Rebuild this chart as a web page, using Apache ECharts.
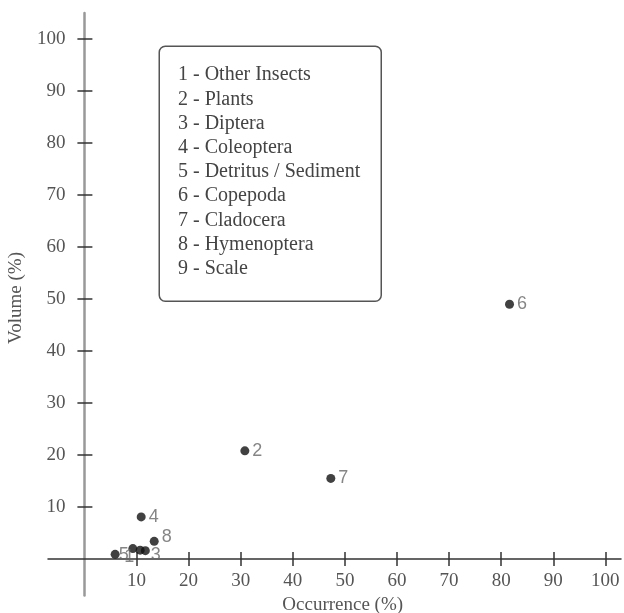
<!DOCTYPE html>
<html>
<head>
<meta charset="utf-8">
<script src="https://cdn.jsdelivr.net/npm/echarts@6/dist/echarts.min.js"></script>
<style>html,body{margin:0;padding:0;background:#fff}#c{width:624px;height:613px}</style>
</head>
<body>
<div id="c"></div>
<script>
const pointLabels = ['1','2','3','4','5','6','7','8','9'];
const categoryNames = ['Other Insects','Plants','Diptera','Coleoptera','Detritus / Sediment','Copepoda','Cladocera','Hymenoptera','Scale'];
const occurrence = [9.3, 30.8, 11.7, 10.9, 5.9, 81.6, 47.3, 13.4, 10.7];
const volume = [2.0, 20.8, 1.6, 8.1, 0.9, 49.0, 15.5, 3.4, 1.7];
const xTicks = [10,20,30,40,50,60,70,80,90,100];
const yTicks = [10,20,30,40,50,60,70,80,90,100];

const labelTweaks = {
  '1': {position:'left', offset:[9,8]},
  '3': {position:'right', offset:[-2,4]},
  '5': {position:'right', offset:[-4,1]},
  '8': {position:'right', offset:[0,-4]},
  '9': {show:false}
};

const data = occurrence.map((x,i)=>{
  const lab = pointLabels[i];
  const d = {value:[x, volume[i]], name: lab};
  if (labelTweaks[lab]) d.label = labelTweaks[lab];
  return d;
});

const serif = 'Liberation Serif';
const txt = '#555';
const tickColor = '#333';
const noLine = {show:false, onZero:false};
const chart = echarts.init(document.getElementById('c'));
chart.setOption({
  animation:false,
  grid:[
    {left:84.4, right:3, top:13, bottom:54, outerBoundsMode:'none', containLabel:false},
    {left:48, right:3, top:13, bottom:17.6, outerBoundsMode:'none', containLabel:false}
  ],
  xAxis:[{
    gridIndex:0, type:'value', min:0, max:103, position:'bottom',
    axisLine:noLine,
    axisTick:{show:true, inside:false, length:7, customValues:xTicks, lineStyle:{color:tickColor, width:1.5}},
    axisLabel:{customValues:xTicks, color:txt, fontFamily:serif, fontSize:19, margin:13},
    splitLine:{show:false},
    name:'Occurrence (%)', nameLocation:'middle', nameGap:37,
    nameTextStyle:{color:txt, fontFamily:serif, fontSize:19, padding:[0,20,0,0]}
  },{
    gridIndex:0, type:'value', min:0, max:103, position:'bottom',
    axisLine:noLine,
    axisTick:{show:true, inside:true, length:7, customValues:xTicks, lineStyle:{color:tickColor, width:1.5}},
    axisLabel:{show:false}, splitLine:{show:false}
  },{
    gridIndex:1, type:'value', min:-7, max:103,
    axisLine:{show:true, onZero:true, lineStyle:{color:'#333', width:1.5}},
    axisTick:{show:false}, axisLabel:{show:false}, splitLine:{show:false}
  }],
  yAxis:[{
    gridIndex:0, type:'value', min:0, max:105, position:'left',
    axisLine:noLine,
    axisTick:{show:true, inside:false, length:7, customValues:yTicks, lineStyle:{color:tickColor, width:1.5}},
    axisLabel:{customValues:yTicks, color:txt, fontFamily:serif, fontSize:19, margin:19},
    splitLine:{show:false},
    name:'Volume (%)', nameLocation:'middle', nameGap:47,
    nameTextStyle:{color:txt, fontFamily:serif, fontSize:19, padding:[0,24,0,0]}
  },{
    gridIndex:0, type:'value', min:0, max:105, position:'left',
    axisLine:noLine,
    axisTick:{show:true, inside:true, length:8, customValues:yTicks, lineStyle:{color:tickColor, width:1.5}},
    axisLabel:{show:false}, splitLine:{show:false}
  },{
    gridIndex:1, type:'value', min:-7, max:105,
    axisLine:{show:true, onZero:true, lineStyle:{color:'#999', width:2.5}},
    axisTick:{show:false}, axisLabel:{show:false}, splitLine:{show:false}
  }],
  series:[{
    type:'scatter', xAxisIndex:0, yAxisIndex:0,
    symbol:'circle', symbolSize:9,
    itemStyle:{color:'#111'},
    label:{show:true, position:'right', distance:3, formatter:p=>p.name,
      color:'#666', fontFamily:'Liberation Sans', fontSize:18},
    data:data, z:5
  }],
  graphic:[{
    type:'rect', left:158.5, top:45.5, z:10,
    shape:{width:222, height:255, r:6},
    style:{fill:'#fff', stroke:'#555', lineWidth:1.5}
  },{
    type:'text', left:178, top:63, z:11,
    style:{
      text: categoryNames.map((n,i)=>pointLabels[i]+' - '+n).join('\n'),
      font: '20px "Liberation Serif"', lineHeight:24.2, fill:'#444'
    }
  }]
});
</script>
</body>
</html>
